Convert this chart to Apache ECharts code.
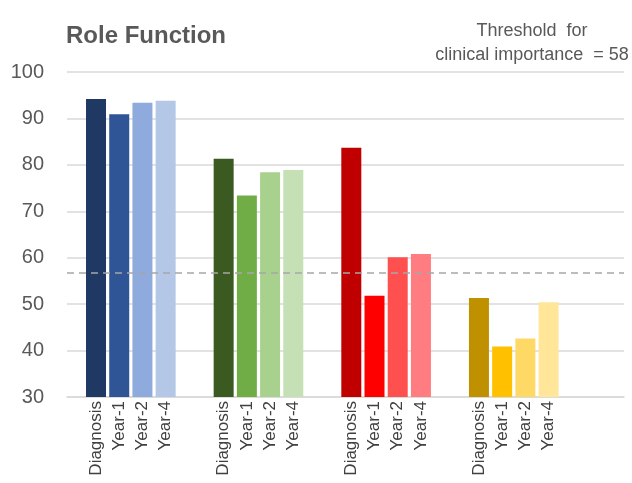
<!DOCTYPE html>
<html>
<head>
<meta charset="utf-8">
<script src="https://cdn.jsdelivr.net/npm/echarts@6/dist/echarts.min.js"></script>
<style>
html,body{margin:0;padding:0;background:#fff;}
#chart{width:632px;height:483px;}
</style>
</head>
<body>
<div id="chart"></div>
<script>
// ---- data ----
var timepoints = ['Diagnosis', 'Year-1', 'Year-2', 'Year-4'];
var groupNames = ['Group A', 'Group B', 'Group C', 'Group D'];
var valuesA = [94.2, 90.9, 93.4, 93.8];
var valuesB = [81.3, 73.4, 78.4, 78.9];
var valuesC = [83.7, 51.8, 60.1, 60.8];
var valuesD = [51.3, 40.9, 42.6, 50.4];
var colorsA = ['#1F3864', '#2F5597', '#8FAADC', '#B4C7E7'];
var colorsB = ['#3A5A22', '#70AD47', '#A9D18E', '#C5E0B4'];
var colorsC = ['#C00000', '#FF0000', '#FF5050', '#FF7C80'];
var colorsD = ['#BF9000', '#FFC000', '#FFD966', '#FFE699'];
var yTicks = [30, 40, 50, 60, 70, 80, 90, 100];
var thresholdLine = 56.7;
var titleText = 'Role Function';
var noteText = 'Threshold  for\nclinical importance  = 58';

// ---- build slot-based category axis (half-bar slots, groups of 11) ----
var groupValues = [valuesA, valuesB, valuesC, valuesD];
var groupColors = [colorsA, colorsB, colorsC, colorsD];
var slotsPerGroup = 11, firstSlot = 2, totalSlots = 48;
var cats = [], data = [];
for (var i = 0; i < totalSlots; i++) { cats.push(''); data.push(null); }
groupValues.forEach(function (vals, g) {
  vals.forEach(function (v, b) {
    var s = firstSlot + g * slotsPerGroup + b * 2;
    cats[s] = timepoints[b];
    data[s] = { value: v, name: groupNames[g] + ' ' + timepoints[b], itemStyle: { color: groupColors[g][b] } };
  });
});

var chart = echarts.init(document.getElementById('chart'), null, { renderer: 'canvas' });
chart.setOption({
  animation: false,
  backgroundColor: '#ffffff',
  title: [{
    text: titleText, left: 66, top: 24, padding: 0,
    textStyle: { fontFamily: 'Liberation Sans, Arial, sans-serif', fontSize: 24, fontWeight: 'bold', color: '#595959' }
  }, {
    text: noteText, left: 532, top: 19, padding: 0, textAlign: 'center',
    textStyle: { fontFamily: 'Liberation Sans, Arial, sans-serif', fontSize: 18, fontWeight: 'normal', color: '#595959', lineHeight: 24 }
  }],
  grid: { left: 67, right: 8, top: 72, bottom: 86, containLabel: false },
  xAxis: {
    type: 'category', data: cats, boundaryGap: true,
    axisTick: { show: false },
    axisLine: { lineStyle: { color: '#d9d9d9', width: 1.5 } },
    axisLabel: { interval: 0, rotate: 90, margin: 4, fontFamily: 'Liberation Sans, Arial, sans-serif', fontSize: 17, color: '#404040' }
  },
  yAxis: {
    type: 'value', min: yTicks[0], max: yTicks[yTicks.length - 1], interval: 10,
    axisLine: { show: false }, axisTick: { show: false },
    axisLabel: { margin: 23, fontFamily: 'Liberation Sans, Arial, sans-serif', fontSize: 20, color: '#595959' },
    splitLine: { lineStyle: { color: '#d9d9d9', width: 1.5 } }
  },
  series: [{
    type: 'bar', data: data, barWidth: 20,
    markLine: {
      silent: true, symbol: 'none', label: { show: false },
      lineStyle: { color: '#a6a6a6', type: [7, 5], width: 1.5 },
      data: [{ yAxis: thresholdLine }]
    }
  }]
});
</script>
</body>
</html>
